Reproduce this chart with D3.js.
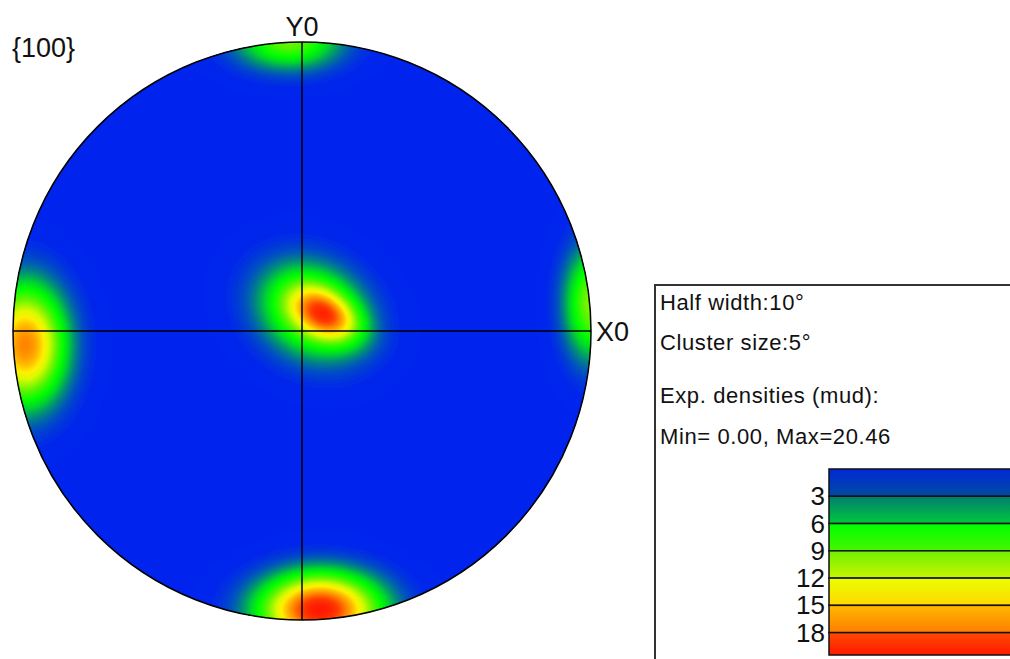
<!DOCTYPE html>
<html>
<head>
<meta charset="utf-8">
<script src="https://cdn.jsdelivr.net/npm/d3@7"></script>
<style>
  html, body { margin: 0; padding: 0; background: #ffffff; }
  svg { display: block; }
  text { font-family: "Liberation Sans", Arial, sans-serif; fill: #111; }
</style>
</head>
<body>
<svg id="chart" width="1010" height="659"></svg>
<script>
// ---- pole figure {100}: orientation density clusters (unit-disc coordinates, y up) ----
const clusterX     = [0.035, 0.085, 0.062, -0.958, 1.003, -0.045];
const clusterY     = [0.069, 0.055, -0.965, -0.048, 0.095, 1.005];
const clusterPeak  = [10.5, 10.0, 20.4, 16.5, 9.5, 9.0];
const clusterMajor = [0.130, 0.085, 0.140, 0.140, 0.135, 0.125];
const clusterMinor = [0.105, 0.052, 0.085, 0.095, 0.066, 0.068];
const clusterTilt  = [-30, -30, 0, 90, 90, 0];   // degrees, direction of the major axis
const baseDensity  = 0.4;

// ---- legend ----
const figureLabel = "{100}";
const axisLabels = ["Y0", "X0"];
const infoLines = ["Half width:10°", "Cluster size:5°", "Exp. densities (mud):", "Min= 0.00, Max=20.46"];
const densityMin = 0.00, densityMax = 20.46;
const levelTicks = [3, 6, 9, 12, 15, 18];

// smooth palette used for the density map
const mapStops = [0, 0.9, 2.2, 3.6, 5.2, 6.8, 9, 12, 13.5, 15, 17, 19, 21];
const mapColors = [
  "rgb(0,35,240)", "rgb(0,38,236)", "rgb(0,80,195)", "rgb(0,140,125)", "rgb(0,210,50)",
  "rgb(0,255,0)", "rgb(90,245,0)", "rgb(220,250,0)", "rgb(255,240,0)",
  "rgb(255,190,0)", "rgb(255,130,0)", "rgb(255,60,0)", "rgb(255,20,0)"
];
// stepped palette used for the legend bands
const bandStops = [0, 2.99, 3, 5.99, 6, 8.99, 9, 11.99, 12, 14.99, 15, 17.99, 18, 21];
const bandColors = [
  "rgb(0,40,215)", "rgb(0,75,160)", "rgb(0,125,110)", "rgb(0,200,60)",
  "rgb(0,255,0)", "rgb(70,245,0)", "rgb(110,240,0)", "rgb(200,245,0)",
  "rgb(235,255,0)", "rgb(255,215,0)", "rgb(255,185,0)", "rgb(255,125,0)",
  "rgb(255,75,0)", "rgb(255,25,0)"
];

const svg = d3.select("#chart");
const cx = 302, cy = 331, R = 289;
const color = d3.scaleLinear().domain(mapStops).range(mapColors).clamp(true);
const bandColor = d3.scaleLinear().domain(bandStops).range(bandColors).clamp(true);
const xs = d3.scaleLinear().domain([-1, 1]).range([cx - R, cx + R]);
const ys = d3.scaleLinear().domain([-1, 1]).range([cy + R, cy - R]);

// density field on a pixel grid
const step = 2;
const n = Math.ceil(2 * R / step) + 1;
const values = new Float64Array(n * n);
const tilts = clusterTilt.map(d => d * Math.PI / 180);
for (let j = 0; j < n; j++) {
  const v = ys.invert(cy - R + j * step);
  for (let i = 0; i < n; i++) {
    const u = xs.invert(cx - R + i * step);
    let s = baseDensity;
    for (let k = 0; k < clusterX.length; k++) {
      const dx = u - clusterX[k], dy = v - clusterY[k];
      const c = Math.cos(tilts[k]), sn = Math.sin(tilts[k]);
      const a = dx * c + dy * sn, b = -dx * sn + dy * c;
      s += clusterPeak[k] * Math.exp(-0.5 * (a * a / (clusterMajor[k] ** 2) + b * b / (clusterMinor[k] ** 2)));
    }
    values[j * n + i] = s;
  }
}

const defs = svg.append("defs");
defs.append("clipPath").attr("id", "disc")
  .append("circle").attr("cx", cx).attr("cy", cy).attr("r", R);

const map = svg.append("g").attr("clip-path", "url(#disc)");
map.append("circle").attr("cx", cx).attr("cy", cy).attr("r", R).attr("fill", color(0));

const thresholds = d3.range(0, 21, 0.25);
const contours = d3.contours().size([n, n]).thresholds(thresholds)(values);
map.append("g")
  .attr("transform", `translate(${cx - R - step / 2},${cy - R - step / 2}) scale(${step})`)
  .selectAll("path")
  .data(contours)
  .join("path")
  .attr("d", d3.geoPath())
  .attr("fill", d => color(d.value + 0.125))
  .attr("stroke", d => color(d.value + 0.125))
  .attr("stroke-width", 0.3);

// reference cross and outline
svg.append("line").attr("x1", xs(0)).attr("x2", xs(0)).attr("y1", ys(1)).attr("y2", ys(-1))
  .attr("stroke", "#000").attr("stroke-width", 1.5);
svg.append("line").attr("x1", xs(-1)).attr("x2", xs(1)).attr("y1", ys(0)).attr("y2", ys(0))
  .attr("stroke", "#000").attr("stroke-width", 1.5);
svg.append("circle").attr("cx", cx).attr("cy", cy).attr("r", R)
  .attr("fill", "none").attr("stroke", "#000").attr("stroke-width", 1.5);

svg.append("text").attr("x", 12).attr("y", 57).attr("font-size", 27).text(figureLabel);
svg.append("text").attr("x", xs(0)).attr("y", 36).attr("text-anchor", "middle")
  .attr("font-size", 27).text(axisLabels[0]);
svg.append("text").attr("x", xs(1) + 5).attr("y", ys(0) + 10).attr("font-size", 27).text(axisLabels[1]);

// legend panel
const box = svg.append("g");
box.append("path").attr("d", "M655,662 L655,285 L1012,285")
  .attr("fill", "none").attr("stroke", "#333").attr("stroke-width", 2);
const infoY = [310, 350, 403, 444];
box.selectAll("text.info").data(infoLines).join("text")
  .attr("class", "info")
  .attr("x", 660).attr("y", (d, i) => infoY[i])
  .attr("font-size", 22).attr("letter-spacing", 0.6)
  .text(d => d);

const barY = d3.scaleLinear().domain([densityMin, densityMax]).range([469, 655]);
const bandEdges = [densityMin, ...levelTicks, densityMax];
const bands = d3.pairs(bandEdges);
bands.forEach((b, i) => {
  const g = defs.append("linearGradient").attr("id", "band" + i)
    .attr("x1", 0).attr("y1", 0).attr("x2", 0).attr("y2", 1);
  g.append("stop").attr("offset", 0).attr("stop-color", bandColor(b[0] + 0.01));
  g.append("stop").attr("offset", 1).attr("stop-color", bandColor(b[0] + 2.99));
});
box.selectAll("rect.band").data(bands).join("rect")
  .attr("class", "band")
  .attr("x", 829).attr("width", 190)
  .attr("y", d => barY(d[0])).attr("height", d => barY(d[1]) - barY(d[0]))
  .attr("fill", (d, i) => `url(#band${i})`)
  .attr("stroke", "#111").attr("stroke-width", 1.5);
box.selectAll("text.tick").data(levelTicks).join("text")
  .attr("class", "tick")
  .attr("x", 825).attr("y", d => barY(d) + 9)
  .attr("text-anchor", "end").attr("font-size", 26)
  .text(d => d);
</script>
</body>
</html>
